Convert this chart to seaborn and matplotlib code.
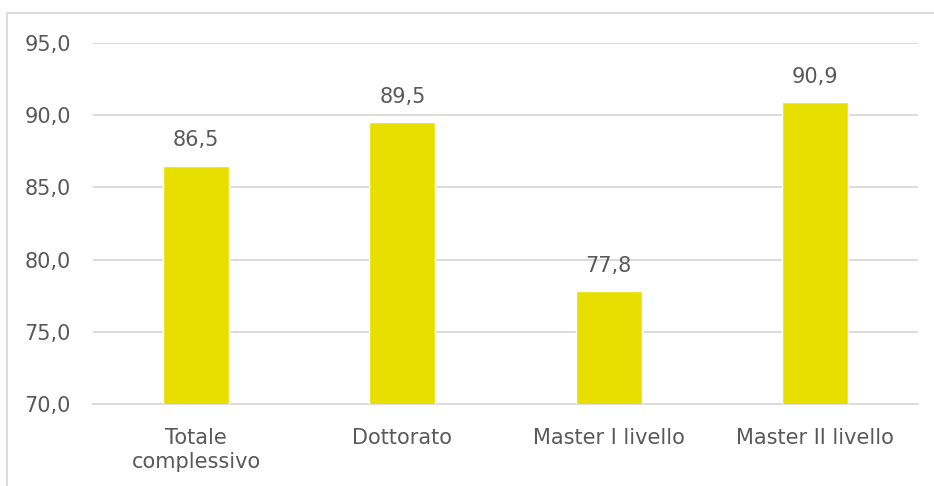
import numpy as np
import pandas as pd
import seaborn as sns
import matplotlib.pyplot as plt
from matplotlib.lines import Line2D

categories = ["Totale\ncomplessivo", "Dottorato", "Master I livello", "Master II livello"]
values = [86.5, 89.5, 77.8, 90.9]
yticks = [70, 75, 80, 85, 90, 95]

bar_color = "#E8DF00"
text_color = "#595959"
grid_color = "#D9D9D9"

sns.set_style("white")
plt.rcParams['font.family'] = ['DejaVu Sans']

df = pd.DataFrame({"cat": categories, "val": values})

fig = plt.figure(figsize=(9.34, 4.86), dpi=100)
ax = fig.add_axes([0.0996, 0.1687, 0.8834, 0.7428])
sns.barplot(data=df, x="cat", y="val", color=bar_color, width=0.32,
            saturation=1, ax=ax, zorder=3)
ax.set_ylim(70, 95)
ax.set_yticks(yticks)
ax.set_yticklabels([f"{v:.1f}".replace(".", ",") for v in yticks])
ax.set_xlim(-0.5, 3.5)
ax.yaxis.grid(True, color=grid_color, linewidth=1.3, zorder=0)
for s in ["top", "right", "left"]:
    ax.spines[s].set_visible(False)
ax.spines["bottom"].set_color(grid_color)
ax.spines["bottom"].set_linewidth(1.3)
ax.set_xlabel("")
ax.set_ylabel("")
ax.tick_params(axis="both", length=0, labelsize=15, labelcolor=text_color)
ax.tick_params(axis="y", pad=16)
ax.tick_params(axis="x", pad=17)
for lbl in ax.get_xticklabels():
    lbl.set_linespacing(1.3)

for i, v in enumerate(values):
    ax.annotate(f"{v:.1f}".replace(".", ","), (i, v), xytext=(0, 11),
                textcoords="offset points", ha="center", va="bottom",
                fontsize=15, color=text_color)

# chart area border (partially visible in the reference)
fig.add_artist(Line2D([7 / 934, 7 / 934], [0, 1 - 13 / 486], transform=fig.transFigure,
                      color=grid_color, linewidth=1.3))
fig.add_artist(Line2D([7 / 934, 1], [1 - 13 / 486, 1 - 13 / 486], transform=fig.transFigure,
                      color=grid_color, linewidth=1.3))

fig.savefig("out.png", dpi=100)
